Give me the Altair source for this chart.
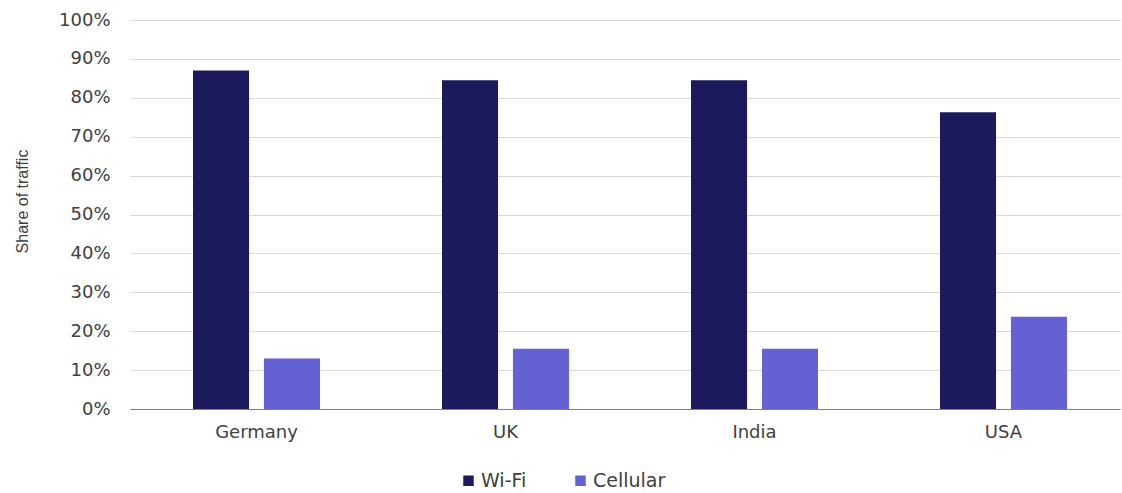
import altair as alt
import pandas as pd

# Share of mobile traffic by connection type
countries = ["Germany", "UK", "India", "USA"]
wifi = [0.87, 0.845, 0.845, 0.763]
cellular = [0.13, 0.155, 0.155, 0.237]
series = ["Wi-Fi", "Cellular"]
colors = ["#1c1a5c", "#6461d2"]
y_ticks = [0, 0.1, 0.2, 0.3, 0.4, 0.5, 0.6, 0.7, 0.8, 0.9, 1.0]

rows = []
for c, w, m in zip(countries, wifi, cellular):
    rows.append({"country": c, "type": "Wi-Fi", "share": w})
    rows.append({"country": c, "type": "Cellular", "share": m})
df = pd.DataFrame(rows)

FONT = "DejaVu Sans"
TEXT = "#404040"

chart = alt.Chart(df).mark_bar().encode(
    x=alt.X(
        "country:N",
        sort=countries,
        title=None,
        scale=alt.Scale(paddingInner=0.49, paddingOuter=0.233, align=0.543),
        axis=alt.Axis(
            labelAngle=0,
            ticks=False,
            labelPadding=14,
            labelFont=FONT,
            labelFontSize=18,
            labelColor=TEXT,
            domainColor="#7f7f7f",
            domainWidth=1.2,
            grid=False,
        ),
    ),
    xOffset=alt.XOffset(
        "type:N", sort=series, scale=alt.Scale(paddingInner=0.21, paddingOuter=0)
    ),
    y=alt.Y(
        "share:Q",
        scale=alt.Scale(domain=[0, 1], nice=False),
        axis=alt.Axis(
            values=y_ticks,
            format=".0%",
            ticks=False,
            domain=False,
            labelPadding=20,
            labelFont=FONT,
            labelFontSize=18,
            labelColor=TEXT,
            gridColor="#d9d9d9",
            gridWidth=1.2,
            title="Share of traffic",
            titleFont="Liberation Sans",
            titleFontSize=16,
            titleFontWeight="normal",
            titleColor=TEXT,
            titleAngle=-90,
            titleAlign="center",
            titleBaseline="middle",
            titleX=-108,
            titleY=181,
        ),
    ),
    color=alt.Color(
        "type:N",
        sort=series,
        scale=alt.Scale(domain=series, range=colors),
        legend=alt.Legend(
            title=None,
            orient="none",
            direction="horizontal",
            legendX=329,
            legendY=451,
            symbolType="square",
            symbolSize=110,
            symbolStrokeWidth=0,
            labelFont=FONT,
            labelFontSize=19,
            labelColor=TEXT,
            labelOffset=3,
            columnPadding=44,
        ),
    ),
).properties(
    width=990,
    height=389,
    background="white",
    autosize=alt.AutoSizeParams(type="none"),
    padding={"left": 130, "top": 20, "right": 2, "bottom": 84},
).configure_view(stroke=None)

chart.save("out.html", embed_options={"renderer": "svg", "actions": False})
